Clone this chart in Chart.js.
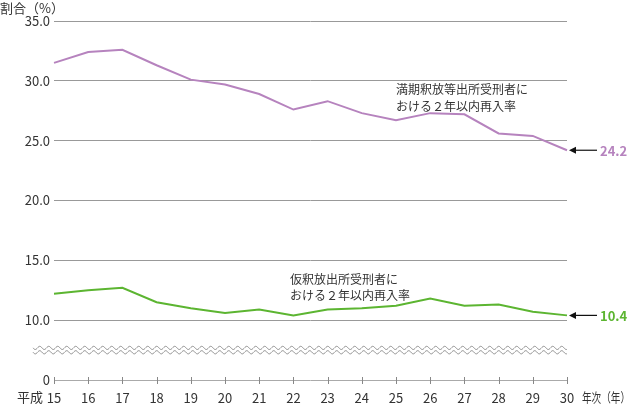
<!DOCTYPE html>
<html lang="ja">
<head>
<meta charset="UTF-8">
<title>2年以内再入率の推移</title>
<script src="https://cdn.jsdelivr.net/npm/chart.js"></script>
<style>
  html, body { margin: 0; padding: 0; background: #fff; }
  #chart { display: block; }
</style>
</head>
<body>
<canvas id="chart" width="630" height="404"></canvas>
<script>
// 年次（平成）
const years = ["15", "16", "17", "18", "19", "20", "21", "22", "23", "24", "25", "26", "27", "28", "29", "30"];
// 満期釈放等出所受刑者における2年以内再入率
const manki = [31.5, 32.4, 32.6, 31.3, 30.1, 29.7, 28.9, 27.6, 28.3, 27.3, 26.7, 27.3, 27.2, 25.6, 25.4, 24.2];
// 仮釈放出所受刑者における2年以内再入率
const karishaku = [12.2, 12.5, 12.7, 11.5, 11.0, 10.6, 10.9, 10.4, 10.9, 11.0, 11.2, 11.8, 11.2, 11.3, 10.7, 10.4];
// 縦軸目盛（5の位置は省略記号の下の「0」）
const yTicks = [5, 10, 15, 20, 25, 30, 35];

const PURPLE = "#b683be";
const GREEN = "#5cb531";
const FONT = "'Noto Sans CJK JP', 'Noto Sans', sans-serif";

// 軸線・省略線・注記・矢印
const extras = {
  id: "extras",
  afterDatasetsDraw(chart) {
    const { ctx, chartArea, scales } = chart;
    const x = scales.x, y = scales.y;
    ctx.save();

    // 横軸
    const y0 = y.getPixelForValue(5);
    ctx.strokeStyle = "#aaa";
    ctx.lineWidth = 1;
    ctx.beginPath();
    ctx.moveTo(chartArea.left, y0 + 0.5);
    ctx.lineTo(chartArea.right, y0 + 0.5);
    ctx.stroke();
    ctx.strokeStyle = "#888";
    years.forEach((_, i) => {
      const px = Math.round(x.getPixelForValue(i)) + 0.5;
      ctx.beginPath();
      ctx.moveTo(px, y0 - 3);
      ctx.lineTo(px, y0 + 4);
      ctx.stroke();
    });

    // 省略の波線
    const yw = y.getPixelForValue(7.5);
    ctx.strokeStyle = "#8a8a8a";
    [-2.2, 2.2].forEach(off => {
      ctx.beginPath();
      for (let px = 33; px <= chartArea.right; px += 0.5) {
        const py = yw + off + 1.6 * Math.sin((px - 33) / 9 * Math.PI * 2);
        if (px === 33) ctx.moveTo(px, py); else ctx.lineTo(px, py);
      }
      ctx.stroke();
    });

    // 注記
    ctx.fillStyle = "#333";
    ctx.font = "12px " + FONT;
    ctx.textAlign = "left";
    ctx.textBaseline = "middle";
    ctx.fillText("満期釈放等出所受刑者に", 396, 89);
    ctx.fillText("おける２年以内再入率", 396, 106);
    ctx.fillText("仮釈放出所受刑者に", 290, 279);
    ctx.fillText("おける２年以内再入率", 290, 295);

    // 最終年の矢印と値
    const last = years.length - 1;
    [[manki, PURPLE], [karishaku, GREEN]].forEach(([data, color]) => {
      const tipX = x.getPixelForValue(last) + 2;
      const py = y.getPixelForValue(data[last]);
      ctx.strokeStyle = "#111";
      ctx.fillStyle = "#111";
      ctx.lineWidth = 1.2;
      ctx.beginPath();
      ctx.moveTo(tipX + 5, py);
      ctx.lineTo(tipX + 28, py);
      ctx.stroke();
      ctx.beginPath();
      ctx.moveTo(tipX, py);
      ctx.lineTo(tipX + 7, py - 3.5);
      ctx.lineTo(tipX + 7, py + 3.5);
      ctx.closePath();
      ctx.fill();
      ctx.fillStyle = color;
      ctx.font = "bold 13px " + FONT;
      ctx.fillText(data[last].toFixed(1), tipX + 31, py + 1);
    });

    // 軸タイトル
    ctx.fillStyle = "#333";
    ctx.font = "13px " + FONT;
    ctx.textAlign = "left";
    ctx.fillText("割合（%）", 0, 8, 72);
    ctx.fillText("平成", 17, 397);
    ctx.fillText("年次（年）", 582, 397, 48);
    ctx.restore();
  }
};

new Chart(document.getElementById("chart").getContext("2d"), {
  type: "line",
  data: {
    labels: years,
    datasets: [
      { label: "満期釈放等", data: manki, borderColor: PURPLE, borderWidth: 2, pointRadius: 0, tension: 0, fill: false },
      { label: "仮釈放", data: karishaku, borderColor: GREEN, borderWidth: 2, pointRadius: 0, tension: 0, fill: false }
    ]
  },
  options: {
    responsive: false,
    animation: false,
    layout: { padding: { top: 21, right: 63, left: 0, bottom: 0 } },
    plugins: { legend: { display: false }, tooltip: { enabled: false } },
    scales: {
      x: {
        offset: false,
        grid: { display: false },
        border: { display: false },
        ticks: { color: "#333", font: { size: 13, family: FONT }, padding: 2, maxRotation: 0, autoSkip: false },
        afterFit(scale) { scale.height = 24; }
      },
      y: {
        min: 5,
        max: 35,
        afterBuildTicks(scale) { scale.ticks = yTicks.map(v => ({ value: v })); },
        grid: {
          drawTicks: false,
          color: ctx => (ctx.tick && ctx.tick.value === 5 ? "rgba(0,0,0,0)" : "#999")
        },
        border: { display: false },
        ticks: {
          color: "#333",
          font: { size: 13, family: FONT },
          padding: 4,
          callback: v => (v === 5 ? "0" : v.toFixed(1))
        },
        afterFit(scale) { scale.width = 54; }
      }
    }
  },
  plugins: [extras]
});
</script>
</body>
</html>
